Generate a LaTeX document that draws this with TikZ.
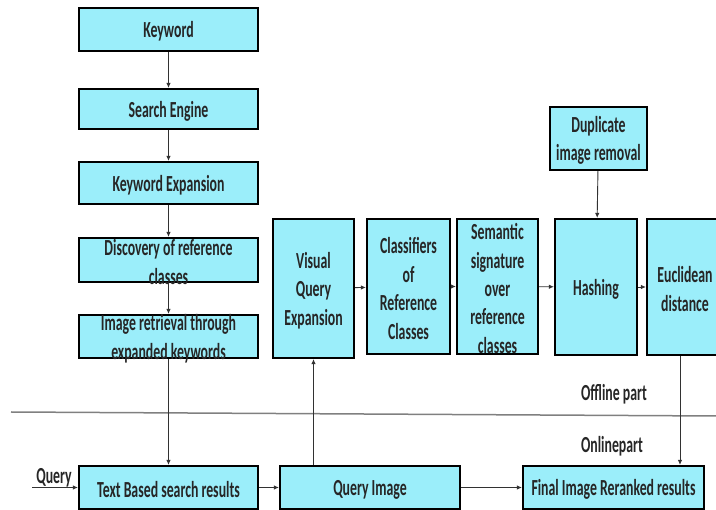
\documentclass[tikz,border=0pt]{standalone}
\usepackage{fontspec}
\setmainfont{Carlito}
\newfontfamily\boxfont[FakeStretch=0.6]{Carlito}
\usetikzlibrary{arrows.meta}
\definecolor{boxfill}{RGB}{155,238,250}
\definecolor{arrgray}{RGB}{50,50,50}
\tikzset{
  stepbox/.style={draw=black, line width=2.2pt, fill=boxfill, rectangle, inner sep=0pt},
  txt/.style={font=\boxfont\bfseries\fontsize{23}{28.5}\selectfont, align=center, inner sep=0pt, text=black!85, yshift=-2pt},
  arr/.style={draw=arrgray, line width=0.9pt, -{Latex[length=5pt,width=4.5pt]}},
}
\begin{document}
\begin{tikzpicture}[x=1pt,y=-1pt]
\useasboundingbox (0,0) rectangle (716,510);
\clip (0,0) rectangle (716,510);
% left column
\node[stepbox, minimum width=179pt, minimum height=43pt] (kw) at (168.5,29.5) {};
\node[txt] (kwt) at (kw.center) {Keyword};
\node[stepbox, minimum width=179pt, minimum height=40pt] (se) at (168.5,109) {};
\node[txt] (set) at (se.center) {Search Engine};
\node[stepbox, minimum width=179pt, minimum height=42pt] (ke) at (168.5,183) {};
\node[txt] (ket) at (ke.center) {Keyword Expansion};
\node[stepbox, minimum width=179pt, minimum height=44pt] (disc) at (168.5,260) {};
\node[txt] (disct) at (disc.center) {Discovery of reference\\classes};
\node[stepbox, minimum width=179pt, minimum height=43pt] (ir) at (168.5,336.5) {};
\node[txt] (irt) at (ir.center) {Image retrieval through\\expanded keywords};
\node[stepbox, minimum width=179pt, minimum height=43pt] (tb) at (168.5,487.5) {};
\node[txt] (tbt) at (tb.center) {Text Based search results};
% top right row
\node[stepbox, minimum width=81pt, minimum height=139pt] (vqe) at (313.5,288.5) {};
\node[txt] (vqet) at (vqe.center) {Visual\\Query\\Expansion};
\node[stepbox, minimum width=83pt, minimum height=135pt] (cls) at (408.5,286.5) {};
\node[txt] (clst) at (cls.center) {Classifiers\\of\\Reference\\Classes};
\node[stepbox, minimum width=81pt, minimum height=135pt] (sem) at (497.5,286.5) {};
\node[txt] (semt) at (sem.center) {Semantic\\signature\\over\\reference\\classes};
\node[stepbox, minimum width=82pt, minimum height=136pt] (hash) at (596,287) {};
\node[txt] (hasht) at (hash.center) {Hashing};
\node[stepbox, minimum width=76pt, minimum height=136pt] (euc) at (685,287) {};
\node[txt] (euct) at (euc.center) {Euclidean\\distance};
\node[stepbox, minimum width=97pt, minimum height=63pt] (dup) at (598.5,138.5) {};
\node[txt] (dupt) at (dup.center) {Duplicate\\image removal};
% bottom row
\node[stepbox, minimum width=180pt, minimum height=43pt] (qimg) at (370,487.5) {};
\node[txt] (qimgt) at (qimg.center) {Query Image};
\node[stepbox, minimum width=181pt, minimum height=43pt] (fin) at (613.5,487.5) {};
\node[txt] (fint) at (fin.center) {Final Image Reranked results};
% labels
\node[txt] (qlab) at (54,476) {Query};
\coordinate (qstart) at (32,487.5);
\node[txt] (offl) at (614,392) {Offline part};
\node[txt] (onl) at (612,444) {Onlinepart};
% divider
\coordinate (dl) at (11,412);
\coordinate (dr) at (716,416);
\draw[draw=gray, line width=1.5pt] (dl) -- (dr);
% arrows
\draw[arr] (kw) -- (se);
\draw[arr] (se) -- (ke);
\draw[arr] (ke) -- (disc);
\draw[arr] (disc) -- (ir);
\draw[arr] (ir) -- (tb);
\draw[arr] (qstart) -- (tb.west);
\draw[arr] (tb) -- (qimg);
\draw[arr] (qimg) -- (fin);
\draw[arr] (vqe.south |- qimg.north) -- (vqe.south);
\draw[arr] (vqe) -- (cls);
\draw[arr] (cls) -- (sem);
\draw[arr] (sem) -- (hash);
\draw[arr] (hash) -- (euc);
\draw[arr] (dup) -- (hash);
\draw[arr] ([xshift=-5pt]euc.south) -- ([xshift=-5pt]euc.south |- fin.north);
\end{tikzpicture}
\end{document}
